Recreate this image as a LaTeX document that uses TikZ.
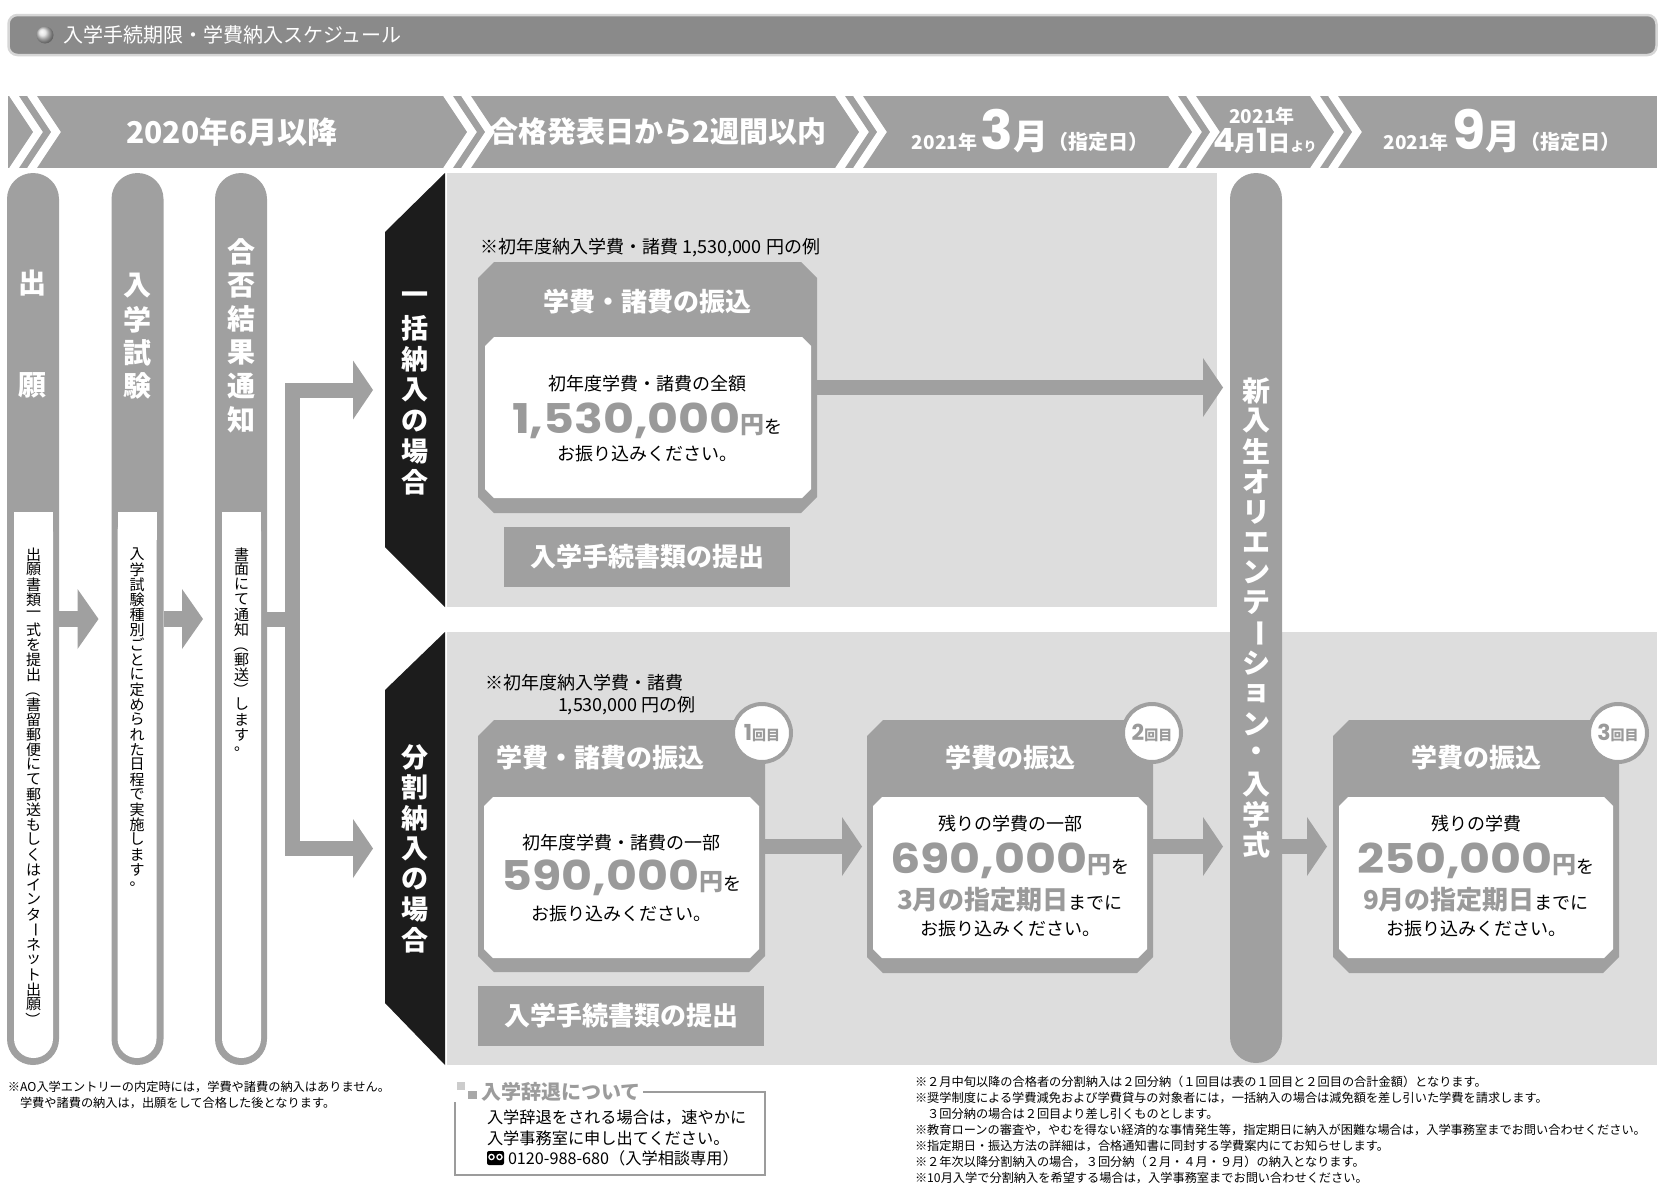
\documentclass[tikz,border=0pt]{standalone}
\usepackage{fontspec}
\setmainfont{Noto Sans CJK JP}
\newfontfamily\numf{Poppins}
\usepackage{graphicx}
\usetikzlibrary{arrows.meta,calc}
\definecolor{gband}{HTML}{A0A0A0}
\definecolor{gpanel}{HTML}{DDDDDD}
\definecolor{gtitle}{HTML}{8A8A8A}
\definecolor{gtitleb}{HTML}{D6D6D6}
\definecolor{gnum}{HTML}{9A9A9A}
\definecolor{tabk}{HTML}{1C1C1C}
\definecolor{gframe}{HTML}{9C9C9C}
\definecolor{gsq1}{HTML}{CCCCCC}
\definecolor{gsq2}{HTML}{A8A8A8}
\newcommand\fsz[1]{\fontsize{#1}{#1}\selectfont}
\newcommand\bignum[1]{\scalebox{1.16}[1]{\numf\fsz{41}#1}}
\newlength\vpit
\newcommand\vcsel[1]{\ifx#1ー\rotatebox[origin=c]{-90}{ー}\else\ifx#1（\rotatebox[origin=c]{-90}{（}\else\ifx#1）\rotatebox[origin=c]{-90}{）}\else#1\fi\fi\fi}
\newcommand\vcchar[1]{\hbox to\vpit{\hss\vbox to\vpit{\vss\hbox{\vcsel{#1}}\vss}\hss}}
\def\vcloop#1{\ifx#1\relax\else\vcchar{#1}\expandafter\vcloop\fi}
\newcommand\vctext[2]{\vpit=#1\relax\vbox{\offinterlineskip\vcloop#2\relax}}
\newcommand\octbox[6]{\fill[#1] ({#2+#6},#3) -- ({#4-#6},#3) -- (#4,{#3+#6}) -- (#4,{#5-#6}) -- ({#4-#6},#5) -- ({#2+#6},#5) -- (#2,{#5-#6}) -- (#2,{#3+#6}) -- cycle;}
\begin{document}
\begin{tikzpicture}[x=1pt,y=-1pt,
 every node/.style={inner sep=0pt,outer sep=0pt},
 blk/.style={draw=gband,line width=15pt,-{Triangle[width=59pt,length=20pt,line width=0pt]}},
 blkl/.style={draw=gband,line width=16pt,-{Triangle[width=60pt,length=21pt,line width=0pt]}},
 pill/.style={fill=gband,rounded corners=26pt,minimum width=52pt},
 wt/.style={text=white,font={\bfseries\fsz{26}}},
 body/.style={font={\fsz{18}}},
 foot/.style={anchor=west,font={\fsz{12.2}}},
 vlab/.style={text=white,font={\bfseries\fsz{28}}},
 vsmall/.style={font={\fsz{15}}},
 badge/.style={circle,draw=gband,line width=4pt,fill=white,minimum size=58pt,text=gnum},
 docbox/.style={fill=gband,minimum width=286pt,minimum height=60pt,text=white,font={\bfseries\fsz{26}}}
]
\useasboundingbox (0,0) rectangle (1660,1202);
\fill[white] (0,0) rectangle (1660,1202);

% title bar
\node[fill=gtitle,draw=gtitleb,line width=2.5pt,rounded corners=9pt,minimum width=1648pt,minimum height=40pt] (bar) at (832.5,35) {};
\shade[ball color=gray!25] (45,35) circle[radius=8.5pt];
\node[anchor=west,text=white,font={\fsz{20}}] (title) at (63,35) {入学手続期限・学費納入スケジュール};

% timeline band
\fill[gband] (8,96) rectangle (1657,168);
\foreach \s in {14,32,448,466,840,858,1173,1191,1315,1333}
  \draw[white,line width=8pt] ({\s-1.3},94) -- ({\s+24},132) -- ({\s-1.3},170);
\node[text=white,font={\bfseries\fsz{30}}] (hb1) at (232,132) {2020年6月以降};
\node[text=white,font={\bfseries\fsz{29}}] (hb2) at (658,132) {合格発表日から2週間以内};
\node[anchor=base,text=white,font=\bfseries] (hb3) at (1030,149) {\fsz{19}2021年\,{\numf\fsz{54}3}{\fsz{35}月}\fsz{20}（指定日）};
\node[text=white,font={\bfseries\fsz{19}}] (hb4a) at (1262,116) {2021年};
\node[anchor=base,text=white,font=\bfseries] (hb4b) at (1265,151) {{\numf\fsz{32}4}{\fsz{22}月}{\numf\fsz{32}1}{\fsz{22}日}{\fsz{13}より}};
\node[anchor=base,text=white,font=\bfseries] (hb5) at (1502,149) {\fsz{19}2021年\,{\numf\fsz{54}9}{\fsz{35}月}\fsz{20}（指定日）};

% panels and tabs
\fill[gpanel] (447,173) rectangle (1217,607);
\fill[gpanel] (447,632) rectangle (1657,1065);
\fill[tabk] (445,173) -- (445,607) -- (385,547) -- (385,232) -- cycle;
\fill[tabk] (445,632) -- (445,1065) -- (385,1003) -- (385,690) -- cycle;
\node[text=white,font={\bfseries\fsz{27}},minimum width=60pt,minimum height=434pt] (tab1) at (415,390) {\vctext{30.7pt}{一括納入の場合}};
\node[text=white,font={\bfseries\fsz{27}},minimum width=60pt,minimum height=433pt] (tab2) at (415,848.5) {\vctext{30.5pt}{分割納入の場合}};

% step pills
\node[pill,minimum height=892pt] (c1) at (33,619) {};
\node[pill,minimum height=892pt] (c2) at (137.5,619) {};
\node[pill,minimum height=892pt] (c3) at (241,619) {};
\foreach \cx in {33.5,137,241.5}{
  \fill[white,rounded corners=19.5pt] ({\cx-19.5},512) rectangle ({\cx+19.5},1058);
  \fill[white] ({\cx-19.5},512) rectangle ({\cx+19.5},540);
}
\node[vlab] (l1a) at (33,283) {出};
\node[vlab] (l1b) at (33,385) {願};
\node[vlab] (l2) at (137.5,336) {\vctext{33.3pt}{入学試験}};
\node[vlab] (l3) at (241,336) {\vctext{33.5pt}{合否結果通知}};
\node[vsmall,anchor=north] (t1) at (33.5,547) {\vctext{15pt}{出願書類一式を提出（書留郵便にて郵送もしくはインターネット出願）}};
\node[vsmall,anchor=north] (t2) at (137,547) {\vctext{15pt}{入学試験種別ごとに定められた日程で実施します。}};
\node[vsmall,anchor=north] (t3) at (241.5,547) {\vctext{15pt}{書面にて通知（郵送）します。}};

% orientation pill
\node[pill,minimum height=890pt,text=white,font={\bfseries\fsz{28}}] (ori) at (1256,618) {\vctext{30.3pt}{新入生オリエンテーション・入学式}};

% box anchors
\node[minimum width=339pt,minimum height=251pt] (ub) at (647.5,387.5) {};
\node[minimum width=287pt,minimum height=253pt] (lb1) at (621.5,846.5) {};
\node[minimum width=286pt,minimum height=253pt] (lb2) at (1010,846.5) {};
\node[minimum width=286pt,minimum height=253pt] (lb3) at (1476,846.5) {};

% connectors
\coordinate (j) at (0,619);
\coordinate (br) at (292.5,619);
\draw[blkl,shorten >=13pt] (c1.east |- j) -- (c2.west |- j);
\draw[blkl,shorten >=12pt] (c2.east |- j) -- (c3.west |- j);
\draw[blk,shorten >=12pt] (c3.east |- j) -- (br) |- (tab1.west);
\draw[blk,shorten >=12pt] (br) |- (tab2.west);
\draw[blk,shorten >=7pt] (ub.east) -- (ub.east -| ori.west);
\draw[blk,shorten >=5pt] (lb1.east) -- (lb2.west);
\draw[blk,shorten >=7pt] (lb2.east) -- (lb2.east -| ori.west);
\draw[blk,shorten >=6pt] (ori.east |- lb3.west) -- (lb3.west);

% upper box (lump sum)
\node[anchor=west,body] (unote) at (480,248) {※初年度納入学費・諸費 1,530,000 円の例};
\octbox{gband}{478}{262}{817}{513}{16}
\octbox{white}{485}{337}{811}{498}{9}
\node[wt] (ubt) at (647.5,302) {学費・諸費の振込};
\node[body] (ub1) at (647.5,384) {初年度学費・諸費の全額};
\node[anchor=base] (ub2) at (647.5,433) {{\color{gnum}\bfseries\bignum{1,530,000}\fsz{24}円}{\fsz{18}を}};
\node[body] (ub3) at (647.5,454) {お振り込みください。};
\node[docbox] (udoc) at (647,557) {入学手続書類の提出};

% lower box 1
\node[anchor=west,body] (lnote1) at (485,683) {※初年度納入学費・諸費};
\node[anchor=west,body] (lnote2) at (558,706) {1,530,000 円の例};
\octbox{gband}{478}{720}{765}{972}{16}
\octbox{white}{484}{797}{759}{958}{9}
\node[wt] (lb1t) at (600,758) {学費・諸費の振込};
\node[body] (lb1a) at (621.5,843) {初年度学費・諸費の一部};
\node[anchor=base] (lb1b) at (621.5,890) {{\color{gnum}\bfseries\bignum{590,000}\fsz{24}円}{\fsz{18}を}};
\node[body] (lb1c) at (621.5,914) {お振り込みください。};
\node[badge] (bd1) at (762,733) {{\bfseries{\numf\fsz{22}1}\fsz{14}回目}};
\node[docbox] (ldoc) at (621,1016) {入学手続書類の提出};

% lower box 2
\octbox{gband}{867}{720}{1153}{973}{16}
\octbox{white}{873}{797}{1147}{958}{9}
\node[wt] (lb2t) at (1010,758) {学費の振込};
\node[body] (lb2a) at (1010,824) {残りの学費の一部};
\node[anchor=base] (lb2b) at (1010,873) {{\color{gnum}\bfseries\bignum{690,000}\fsz{24}円}{\fsz{18}を}};
\node[anchor=base] (lb2c) at (1010,909) {{\color{gnum}\bfseries\fsz{26}3月の指定期日}{\fsz{18}までに}};
\node[body] (lb2d) at (1010,929) {お振り込みください。};
\node[badge] (bd2) at (1152,733) {{\bfseries{\numf\fsz{22}2}\fsz{14}回目}};

% lower box 3
\octbox{gband}{1333}{720}{1619}{973}{16}
\octbox{white}{1339}{797}{1613}{958}{9}
\node[wt] (lb3t) at (1476,758) {学費の振込};
\node[body] (lb3a) at (1476,824) {残りの学費};
\node[anchor=base] (lb3b) at (1476,873) {{\color{gnum}\bfseries\bignum{250,000}\fsz{24}円}{\fsz{18}を}};
\node[anchor=base] (lb3c) at (1476,909) {{\color{gnum}\bfseries\fsz{26}9月の指定期日}{\fsz{18}までに}};
\node[body] (lb3d) at (1476,929) {お振り込みください。};
\node[badge] (bd3) at (1618,733) {{\bfseries{\numf\fsz{22}3}\fsz{14}回目}};

% left footnote
\node[foot] (fl1) at (8,1087) {※AO入学エントリーの内定時には，学費や諸費の納入はありません。};
\node[foot] (fl2) at (20,1103) {学費や諸費の納入は，出願をして合格した後となります。};

% withdrawal box
\fill[gsq1] (457,1082) rectangle (465,1090);
\fill[gsq2] (468,1091) rectangle (477,1099);
\node[anchor=west,text=gframe,font={\bfseries\fsz{20}}] (jt) at (481,1092) {入学辞退について};
\draw[gframe,line width=1.5pt] ([xshift=3pt]jt.east) -- (765,1092) -- (765,1175) -- (455,1175) -- (455,1102);
\node[anchor=west,font={\fsz{16.2}}] (jl1) at (487,1118) {入学辞退をされる場合は，速やかに};
\node[anchor=west,font={\fsz{16.2}}] (jl2) at (487,1138) {入学事務室に申し出てください。};
\fill[black,rounded corners=2pt] (487,1151) rectangle (504,1165);
\draw[white,line width=1.3pt] (491.5,1157) circle[radius=2.6pt] (499.5,1157) circle[radius=2.6pt];
\node[anchor=west,font={\fsz{16.2}}] (jl3) at (508,1158) {0120-988-680（入学相談専用）};

% right footnotes
\node[foot] (fr1) at (915,1082) {※２月中旬以降の合格者の分割納入は２回分納（１回目は表の１回目と２回目の合計金額）となります。};
\node[foot] (fr2) at (915,1098) {※奨学制度による学費減免および学費貸与の対象者には，一括納入の場合は減免額を差し引いた学費を請求します。};
\node[foot] (fr3) at (915,1114) {　３回分納の場合は２回目より差し引くものとします。};
\node[foot] (fr4) at (915,1130) {※教育ローンの審査や，やむを得ない経済的な事情発生等，指定期日に納入が困難な場合は，入学事務室までお問い合わせください。};
\node[foot] (fr5) at (915,1146) {※指定期日・振込方法の詳細は，合格通知書に同封する学費案内にてお知らせします。};
\node[foot] (fr6) at (915,1162) {※２年次以降分割納入の場合，３回分納（２月・４月・９月）の納入となります。};
\node[foot] (fr7) at (915,1178) {※10月入学で分割納入を希望する場合は，入学事務室までお問い合わせください。};
\end{tikzpicture}
\end{document}
